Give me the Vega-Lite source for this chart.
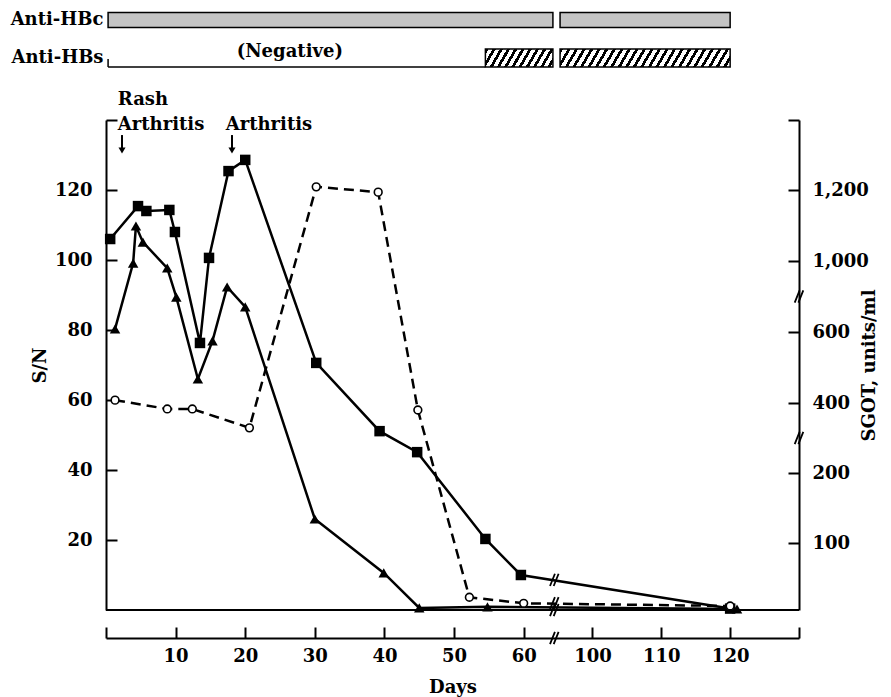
{
  "$schema": "https://vega.github.io/schema/vega-lite/v6.json",
  "width": 693,
  "height": 490,
  "autosize": {"type": "none"},
  "padding": {"left": 106, "top": 120, "right": 92, "bottom": 87},
  "background": "white",
  "config": {
    "view": {"stroke": null},
    "font": "DejaVu Serif",
    "axis": {
      "grid": false,
      "labelFont": "DejaVu Serif",
      "labelFontWeight": "bold",
      "labelFontSize": 18,
      "labelColor": "black",
      "titleFont": "DejaVu Serif",
      "titleFontWeight": "bold",
      "titleFontSize": 18,
      "titleColor": "black",
      "domainColor": "black",
      "domainWidth": 2,
      "tickColor": "black",
      "tickWidth": 2
    }
  },
  "datasets": {
    "sn": [
      {"assay": "A", "day": 0.6, "sn": 106},
      {"assay": "A", "day": 4.6, "sn": 115.4},
      {"assay": "A", "day": 5.8, "sn": 114},
      {"assay": "A", "day": 9.1, "sn": 114.3},
      {"assay": "A", "day": 9.9, "sn": 108},
      {"assay": "A", "day": 13.5, "sn": 76.3},
      {"assay": "A", "day": 14.8, "sn": 100.6},
      {"assay": "A", "day": 17.6, "sn": 125.4},
      {"assay": "A", "day": 20, "sn": 128.6},
      {"assay": "A", "day": 30.2, "sn": 70.6},
      {"assay": "A", "day": 39.3, "sn": 51.1},
      {"assay": "A", "day": 44.7, "sn": 45.1},
      {"assay": "A", "day": 54.5, "sn": 20.3},
      {"assay": "A", "day": 59.6, "sn": 10},
      {"assay": "A", "day": 120, "sn": 0.4},
      {"assay": "B", "day": 1.3, "sn": 80.3},
      {"assay": "B", "day": 3.9, "sn": 99.1},
      {"assay": "B", "day": 4.3, "sn": 109.7},
      {"assay": "B", "day": 5.3, "sn": 105.1},
      {"assay": "B", "day": 8.8, "sn": 97.7},
      {"assay": "B", "day": 10.1, "sn": 89.4},
      {"assay": "B", "day": 13.2, "sn": 66},
      {"assay": "B", "day": 15.3, "sn": 76.9},
      {"assay": "B", "day": 17.4, "sn": 92.3},
      {"assay": "B", "day": 20, "sn": 86.6},
      {"assay": "B", "day": 30, "sn": 26},
      {"assay": "B", "day": 39.9, "sn": 10.6},
      {"assay": "B", "day": 45, "sn": 0.6},
      {"assay": "B", "day": 54.8, "sn": 0.9},
      {"assay": "B", "day": 121, "sn": 0.3}
    ],
    "sgot": [
      {"day": 1.3, "sgot": 408},
      {"day": 8.8, "sgot": 383},
      {"day": 12.4, "sgot": 383},
      {"day": 20.6, "sgot": 329},
      {"day": 30.2, "sgot": 1209},
      {"day": 39.1, "sgot": 1194},
      {"day": 44.8, "sgot": 380},
      {"day": 52.2, "sgot": 19},
      {"day": 60, "sgot": 10},
      {"day": 120, "sgot": 6}
    ],
    "base": [{"day": 0, "end": 130, "sn": 0}],
    "notes": [
      {"day": 1.7, "sn": 144.3, "label": "Rash"},
      {"day": 1.7, "sn": 137.1, "label": "Arthritis"},
      {"day": 17.2, "sn": 137.1, "label": "Arthritis"}
    ],
    "arrows": [
      {"day": 2.3, "sn": 135.7, "sn2": 131.3},
      {"day": 18.1, "sn": 135.7, "sn2": 131.3}
    ],
    "snbreaks": [
      {"day": 64.4, "sn": 0},
      {"day": 64.4, "sn": -8},
      {"day": 64.4, "sn": 8.6}
    ],
    "sgotbreaks": [
      {"day": 64.4, "sgot": 10},
      {"day": 130, "sgot": 300},
      {"day": 130, "sgot": 800}
    ],
    "tests": [
      {"test": "Anti-HBc", "result": "positive", "day": 0.3, "end": 64.2},
      {"test": "Anti-HBc", "result": "positive", "day": 95.3, "end": 120},
      {"test": "Anti-HBs", "result": "negative", "day": 0.3, "end": 54.5},
      {"test": "Anti-HBs", "result": "positive", "day": 54.5, "end": 64.2},
      {"test": "Anti-HBs", "result": "positive", "day": 95.3, "end": 120}
    ],
    "testnotes": [
      {"test": "Anti-HBs", "day": 26.4, "label": "(Negative)"}
    ]
  },
  "encoding": {
    "x": {
      "field": "day",
      "type": "quantitative",
      "scale": {"domain": [0, 64.5, 95, 130], "range": [0, 449, 452, 693], "nice": false, "zero": false},
      "axis": {
        "values": [0, 10, 20, 30, 40, 50, 60, 100, 110, 120, 130],
        "labelExpr": "datum.value == 0 || datum.value == 130 ? '' : datum.label",
        "offset": 28,
        "tickSize": -11,
        "labelPadding": 20,
        "labelFlush": false,
        "title": "Days",
        "titlePadding": 13
      }
    }
  },
  "layer": [
    {
      "encoding": {
        "y": {
          "field": "sn",
          "type": "quantitative",
          "scale": {"domain": [0, 140], "nice": false, "zero": false},
          "axis": {
            "orient": "left",
            "values": [20, 40, 60, 80, 100, 120, 140],
            "labelExpr": "datum.value == 140 ? '' : datum.label",
            "tickSize": -11,
            "labelPadding": 25,
            "title": "S/N",
            "titlePadding": 5
          }
        }
      },
      "layer": [
        {
          "data": {"name": "base"},
          "mark": {"type": "rule", "color": "black", "strokeWidth": 2},
          "encoding": {"x2": {"field": "end"}}
        },
        {
          "data": {"name": "sn"},
          "mark": {"type": "line", "color": "black", "strokeWidth": 2.5},
          "encoding": {"detail": {"field": "assay", "type": "nominal"}}
        },
        {
          "data": {"name": "sn"},
          "mark": {"type": "point", "filled": true, "color": "black", "opacity": 1, "size": 110},
          "encoding": {
            "shape": {"field": "assay", "type": "nominal", "scale": {"domain": ["A", "B"], "range": ["square", "triangle-up"]}, "legend": null}
          }
        },
        {
          "data": {"name": "notes"},
          "mark": {"type": "text", "align": "left", "baseline": "alphabetic", "font": "DejaVu Serif", "fontWeight": "bold", "fontSize": 18, "color": "black"},
          "encoding": {"text": {"field": "label"}}
        },
        {
          "data": {"name": "arrows"},
          "mark": {"type": "rule", "color": "black", "strokeWidth": 2},
          "encoding": {"y2": {"field": "sn2"}}
        },
        {
          "data": {"name": "arrows"},
          "mark": {"type": "point", "shape": "triangle-down", "filled": true, "color": "black", "opacity": 1, "size": 50},
          "encoding": {"y": {"field": "sn2", "type": "quantitative"}}
        },
        {
          "data": {"name": "snbreaks"},
          "mark": {"type": "point", "shape": "M-0.7,1L0.1,-1M-0.1,1L0.7,-1", "filled": false, "stroke": "black", "strokeWidth": 1.8, "opacity": 1, "size": 150}
        }
      ]
    },
    {
      "encoding": {
        "y": {
          "field": "sgot",
          "type": "quantitative",
          "scale": {"domain": [0, 100, 200, 400, 600, 1000, 1200, 1400], "range": [490, 423, 353, 283, 212, 141, 70, 0], "nice": false, "zero": false},
          "axis": {
            "orient": "right",
            "values": [100, 200, 400, 600, 1000, 1200, 1400],
            "labelExpr": "datum.value == 1400 ? '' : format(datum.value, ',')",
            "tickSize": -11,
            "labelPadding": 24,
            "title": "SGOT, units/ml",
            "titleAngle": 270,
            "titlePadding": 10
          }
        }
      },
      "layer": [
        {
          "data": {"name": "sgot"},
          "mark": {"type": "line", "color": "black", "strokeWidth": 2.5, "strokeDash": [10, 6]}
        },
        {
          "data": {"name": "sgot"},
          "mark": {"type": "point", "shape": "circle", "filled": true, "fill": "white", "stroke": "black", "strokeWidth": 1.6, "opacity": 1, "size": 60}
        },
        {
          "data": {"name": "sgotbreaks"},
          "mark": {"type": "point", "shape": "M-0.7,1L0.1,-1M-0.1,1L0.7,-1", "filled": false, "stroke": "black", "strokeWidth": 1.8, "opacity": 1, "size": 150}
        }
      ]
    },
    {
      "encoding": {
        "y": {
          "field": "test",
          "type": "nominal",
          "scale": {"type": "band", "domain": ["Anti-HBc", "Anti-HBs"], "range": [-119, -43], "paddingInner": 0, "paddingOuter": 0},
          "axis": {"orient": "left", "domain": false, "ticks": false, "labelPadding": 3, "title": null}
        }
      },
      "layer": [
        {
          "data": {"name": "tests"},
          "transform": [{"filter": "datum.test == 'Anti-HBc'"}],
          "mark": {"type": "bar", "height": 15, "fill": "#c4c4c4", "stroke": "black", "strokeWidth": 1.5},
          "encoding": {"x2": {"field": "end"}}
        },
        {
          "data": {"name": "tests"},
          "transform": [{"filter": "datum.test == 'Anti-HBs' && datum.result == 'positive' && datum.day < 60"}],
          "mark": {
            "type": "bar", "height": 18, "stroke": "black", "strokeWidth": 1.5,
            "fill": {"gradient": "linear", "x1": 0, "y1": 0, "x2": 1.15, "y2": 0.176, "stops": [
              {"offset": 0, "color": "black"}, {"offset": 0.04, "color": "black"}, {"offset": 0.04, "color": "white"}, {"offset": 0.0909, "color": "white"},
              {"offset": 0.0909, "color": "black"}, {"offset": 0.1309, "color": "black"}, {"offset": 0.1309, "color": "white"}, {"offset": 0.1818, "color": "white"},
              {"offset": 0.1818, "color": "black"}, {"offset": 0.2218, "color": "black"}, {"offset": 0.2218, "color": "white"}, {"offset": 0.2727, "color": "white"},
              {"offset": 0.2727, "color": "black"}, {"offset": 0.3127, "color": "black"}, {"offset": 0.3127, "color": "white"}, {"offset": 0.3636, "color": "white"},
              {"offset": 0.3636, "color": "black"}, {"offset": 0.4036, "color": "black"}, {"offset": 0.4036, "color": "white"}, {"offset": 0.4545, "color": "white"},
              {"offset": 0.4545, "color": "black"}, {"offset": 0.4945, "color": "black"}, {"offset": 0.4945, "color": "white"}, {"offset": 0.5455, "color": "white"},
              {"offset": 0.5455, "color": "black"}, {"offset": 0.5855, "color": "black"}, {"offset": 0.5855, "color": "white"}, {"offset": 0.6364, "color": "white"},
              {"offset": 0.6364, "color": "black"}, {"offset": 0.6764, "color": "black"}, {"offset": 0.6764, "color": "white"}, {"offset": 0.7273, "color": "white"},
              {"offset": 0.7273, "color": "black"}, {"offset": 0.7673, "color": "black"}, {"offset": 0.7673, "color": "white"}, {"offset": 0.8182, "color": "white"},
              {"offset": 0.8182, "color": "black"}, {"offset": 0.8582, "color": "black"}, {"offset": 0.8582, "color": "white"}, {"offset": 0.9091, "color": "white"},
              {"offset": 0.9091, "color": "black"}, {"offset": 0.9491, "color": "black"}, {"offset": 0.9491, "color": "white"}, {"offset": 1, "color": "white"}
            ]}
          },
          "encoding": {"x2": {"field": "end"}}
        },
        {
          "data": {"name": "tests"},
          "transform": [{"filter": "datum.test == 'Anti-HBs' && datum.result == 'positive' && datum.day > 90"}],
          "mark": {
            "type": "bar", "height": 18, "stroke": "black", "strokeWidth": 1.5,
            "fill": {"gradient": "linear", "x1": 0, "y1": 0, "x2": 1.06, "y2": 0.065, "stops": [
              {"offset": 0, "color": "black"}, {"offset": 0.0175, "color": "black"}, {"offset": 0.0175, "color": "white"}, {"offset": 0.0417, "color": "white"},
              {"offset": 0.0417, "color": "black"}, {"offset": 0.0592, "color": "black"}, {"offset": 0.0592, "color": "white"}, {"offset": 0.0833, "color": "white"},
              {"offset": 0.0833, "color": "black"}, {"offset": 0.1008, "color": "black"}, {"offset": 0.1008, "color": "white"}, {"offset": 0.125, "color": "white"},
              {"offset": 0.125, "color": "black"}, {"offset": 0.1425, "color": "black"}, {"offset": 0.1425, "color": "white"}, {"offset": 0.1667, "color": "white"},
              {"offset": 0.1667, "color": "black"}, {"offset": 0.1842, "color": "black"}, {"offset": 0.1842, "color": "white"}, {"offset": 0.2083, "color": "white"},
              {"offset": 0.2083, "color": "black"}, {"offset": 0.2258, "color": "black"}, {"offset": 0.2258, "color": "white"}, {"offset": 0.25, "color": "white"},
              {"offset": 0.25, "color": "black"}, {"offset": 0.2675, "color": "black"}, {"offset": 0.2675, "color": "white"}, {"offset": 0.2917, "color": "white"},
              {"offset": 0.2917, "color": "black"}, {"offset": 0.3092, "color": "black"}, {"offset": 0.3092, "color": "white"}, {"offset": 0.3333, "color": "white"},
              {"offset": 0.3333, "color": "black"}, {"offset": 0.3508, "color": "black"}, {"offset": 0.3508, "color": "white"}, {"offset": 0.375, "color": "white"},
              {"offset": 0.375, "color": "black"}, {"offset": 0.3925, "color": "black"}, {"offset": 0.3925, "color": "white"}, {"offset": 0.4167, "color": "white"},
              {"offset": 0.4167, "color": "black"}, {"offset": 0.4342, "color": "black"}, {"offset": 0.4342, "color": "white"}, {"offset": 0.4583, "color": "white"},
              {"offset": 0.4583, "color": "black"}, {"offset": 0.4758, "color": "black"}, {"offset": 0.4758, "color": "white"}, {"offset": 0.5, "color": "white"},
              {"offset": 0.5, "color": "black"}, {"offset": 0.5175, "color": "black"}, {"offset": 0.5175, "color": "white"}, {"offset": 0.5417, "color": "white"},
              {"offset": 0.5417, "color": "black"}, {"offset": 0.5592, "color": "black"}, {"offset": 0.5592, "color": "white"}, {"offset": 0.5833, "color": "white"},
              {"offset": 0.5833, "color": "black"}, {"offset": 0.6008, "color": "black"}, {"offset": 0.6008, "color": "white"}, {"offset": 0.625, "color": "white"},
              {"offset": 0.625, "color": "black"}, {"offset": 0.6425, "color": "black"}, {"offset": 0.6425, "color": "white"}, {"offset": 0.6667, "color": "white"},
              {"offset": 0.6667, "color": "black"}, {"offset": 0.6842, "color": "black"}, {"offset": 0.6842, "color": "white"}, {"offset": 0.7083, "color": "white"},
              {"offset": 0.7083, "color": "black"}, {"offset": 0.7258, "color": "black"}, {"offset": 0.7258, "color": "white"}, {"offset": 0.75, "color": "white"},
              {"offset": 0.75, "color": "black"}, {"offset": 0.7675, "color": "black"}, {"offset": 0.7675, "color": "white"}, {"offset": 0.7917, "color": "white"},
              {"offset": 0.7917, "color": "black"}, {"offset": 0.8092, "color": "black"}, {"offset": 0.8092, "color": "white"}, {"offset": 0.8333, "color": "white"},
              {"offset": 0.8333, "color": "black"}, {"offset": 0.8508, "color": "black"}, {"offset": 0.8508, "color": "white"}, {"offset": 0.875, "color": "white"},
              {"offset": 0.875, "color": "black"}, {"offset": 0.8925, "color": "black"}, {"offset": 0.8925, "color": "white"}, {"offset": 0.9167, "color": "white"},
              {"offset": 0.9167, "color": "black"}, {"offset": 0.9342, "color": "black"}, {"offset": 0.9342, "color": "white"}, {"offset": 0.9583, "color": "white"},
              {"offset": 0.9583, "color": "black"}, {"offset": 0.9758, "color": "black"}, {"offset": 0.9758, "color": "white"}, {"offset": 1, "color": "white"}
            ]}
          },
          "encoding": {"x2": {"field": "end"}}
        },
        {
          "data": {"name": "tests"},
          "transform": [{"filter": "datum.result == 'negative'"}],
          "mark": {"type": "rule", "color": "black", "strokeWidth": 1.5, "yOffset": 9},
          "encoding": {"x2": {"field": "end"}}
        },
        {
          "data": {"name": "tests"},
          "transform": [{"filter": "datum.result == 'negative'"}],
          "mark": {"type": "tick", "orient": "vertical", "color": "black", "size": 8, "thickness": 1.5, "opacity": 1, "yOffset": 5}
        },
        {
          "data": {"name": "testnotes"},
          "mark": {"type": "text", "align": "center", "baseline": "middle", "dy": -6, "font": "DejaVu Serif", "fontWeight": "bold", "fontSize": 18, "color": "black"},
          "encoding": {"text": {"field": "label"}}
        }
      ]
    }
  ],
  "resolve": {"scale": {"y": "independent"}, "axis": {"y": "independent"}}
}
